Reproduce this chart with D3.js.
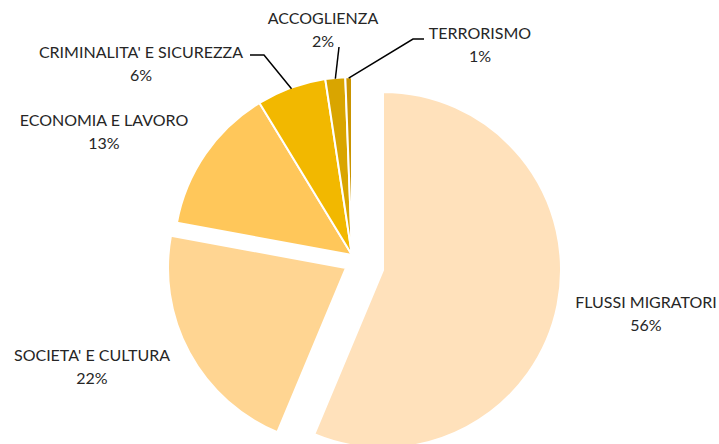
<!DOCTYPE html>
<html>
<head>
<meta charset="utf-8">
<script src="https://cdn.jsdelivr.net/npm/d3@7"></script>
<style>
  body { margin: 0; background: #fff; }
  svg text { font-family: Lato, "Liberation Sans", sans-serif; fill: #262626; }
</style>
</head>
<body>
<svg id="drawing_region"></svg>
<script>
const categories = ["FLUSSI MIGRATORI", "SOCIETA' E CULTURA", "ECONOMIA E LAVORO",
                    "CRIMINALITA' E SICUREZZA", "ACCOGLIENZA", "TERRORISMO"];
const values = [56.3, 21.6, 13.4, 6.3, 1.8, 0.6];
const colors = ["#FFE1BB", "#FFD592", "#FFC75A", "#F2B800", "#D9A500", "#C99400"];

const config = {
    width: 719,
    height: 444,
    cx: 352,
    cy: 255,
    radius: 178,
    fontSize: 16,
    lineGap: 23
};

// offsets of the exploded slices
const explode = {
    "FLUSSI MIGRATORI": [31, 15],
    "SOCIETA' E CULTURA": [-6, 13]
};

// label centre (first line)
const labelPos = {
    "FLUSSI MIGRATORI": [646, 302],
    "SOCIETA' E CULTURA": [92, 355],
    "ECONOMIA E LAVORO": [104, 120],
    "CRIMINALITA' E SICUREZZA": [141, 52],
    "ACCOGLIENZA": [323, 18],
    "TERRORISMO": [480, 33]
};

// leader line points before the slice
const leaders = {
    "CRIMINALITA' E SICUREZZA": [[250, 55], [264, 55]],
    "ACCOGLIENZA": [[339, 47]],
    "TERRORISMO": [[424, 39], [413, 39]]
};

const data = categories.map((c, i) => ({ name: c, value: values[i], color: colors[i] }));

const svg = d3.select('#drawing_region')
    .attr('width', config.width)
    .attr('height', config.height);

const pie = d3.pie()
    .sort(null)
    .value(d => d.value);

const arc = d3.arc()
    .innerRadius(0)
    .outerRadius(config.radius);

const arcs = pie(data);
const total = d3.sum(values);

const chart = svg.append('g')
    .attr('transform', `translate(${config.cx}, ${config.cy})`);

chart.selectAll('path')
    .data(arcs)
    .enter()
    .append('path')
    .attr('transform', d => {
        const o = explode[d.data.name] || [0, 0];
        return `translate(${o[0]}, ${o[1]})`;
    })
    .attr('d', arc)
    .attr('fill', d => d.data.color)
    .attr('stroke', '#fff')
    .attr('stroke-width', 2)
    .attr('stroke-linejoin', 'round');

// leader lines
const line = d3.line();
arcs.forEach(d => {
    const pts = leaders[d.data.name];
    if (!pts) return;
    const a = (d.startAngle + d.endAngle) / 2;
    const r = config.radius - 1;
    const end = [config.cx + r * Math.sin(a), config.cy - r * Math.cos(a)];
    svg.append('path')
        .attr('d', line(pts.concat([end])))
        .attr('fill', 'none')
        .attr('stroke', '#000')
        .attr('stroke-width', 1.5);
});

// labels
const labels = svg.selectAll('.label')
    .data(arcs)
    .enter()
    .append('text')
    .attr('class', 'label')
    .attr('text-anchor', 'middle')
    .style('font-size', config.fontSize + 'px');

labels.append('tspan')
    .attr('x', d => labelPos[d.data.name][0])
    .attr('y', d => labelPos[d.data.name][1] + 5.5)
    .text(d => d.data.name);

labels.append('tspan')
    .attr('x', d => labelPos[d.data.name][0])
    .attr('y', d => labelPos[d.data.name][1] + 5.5 + config.lineGap)
    .text(d => Math.round(d.data.value / total * 100) + '%');
</script>
</body>
</html>
